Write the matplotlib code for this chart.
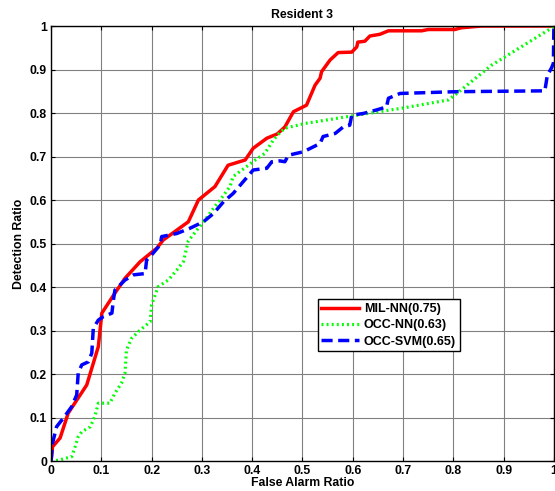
import matplotlib
matplotlib.use("Agg")
import matplotlib.pyplot as plt

plt.rcParams['font.family'] = ['Liberation Sans', 'DejaVu Sans']
plt.rcParams['font.weight'] = 'bold'

# MIL-NN
mil_x = [0, 0.003, 0.018, 0.034, 0.071, 0.094, 0.101, 0.127, 0.147, 0.177, 0.21, 0.223,
         0.273, 0.293, 0.326, 0.352, 0.386, 0.402, 0.429, 0.45, 0.465, 0.482, 0.508, 0.525,
         0.535, 0.538, 0.555, 0.571, 0.598, 0.608, 0.61, 0.624, 0.634, 0.654, 0.671, 0.737,
         0.75, 0.803, 0.816, 0.856, 1.0]
mil_y = [0, 0.033, 0.053, 0.11, 0.175, 0.263, 0.34, 0.386, 0.42, 0.458, 0.489, 0.508,
         0.55, 0.6, 0.631, 0.68, 0.692, 0.719, 0.742, 0.752, 0.768, 0.803, 0.818, 0.864,
         0.88, 0.895, 0.922, 0.939, 0.94, 0.952, 0.963, 0.965, 0.977, 0.981, 0.989, 0.989,
         0.992, 0.992, 0.996, 1.0, 1.0]

# OCC-NN
occnn_x = [0, 0.015, 0.041, 0.048, 0.054, 0.061, 0.078, 0.087, 0.094, 0.117, 0.127, 0.14,
           0.147, 0.15, 0.16, 0.177, 0.197, 0.2, 0.213, 0.233, 0.25, 0.263, 0.273, 0.29,
           0.306, 0.323, 0.336, 0.356, 0.362, 0.389, 0.406, 0.425, 0.442, 0.455, 0.465,
           0.505, 0.591, 0.697, 0.79, 0.807, 0.876, 0.995, 1.0]
occnn_y = [0, 0.002, 0.01, 0.033, 0.056, 0.067, 0.079, 0.102, 0.133, 0.133, 0.156, 0.179,
           0.202, 0.255, 0.282, 0.301, 0.32, 0.359, 0.401, 0.416, 0.439, 0.458, 0.506, 0.531,
           0.554, 0.581, 0.6, 0.631, 0.654, 0.677, 0.692, 0.707, 0.738, 0.755, 0.765,
           0.776, 0.792, 0.811, 0.83, 0.845, 0.91, 0.995, 1.0]

# OCC-SVM
svm_x = [0, 0.003, 0.011, 0.024, 0.041, 0.051, 0.054, 0.061, 0.074, 0.081, 0.084, 0.094,
         0.104, 0.121, 0.124, 0.127, 0.147, 0.164, 0.187, 0.19, 0.2, 0.217, 0.22, 0.25,
         0.276, 0.303, 0.323, 0.343, 0.362, 0.382, 0.402, 0.429, 0.439, 0.455, 0.465,
         0.472, 0.502, 0.535, 0.541, 0.565, 0.581, 0.594, 0.598, 0.621, 0.647, 0.667,
         0.671, 0.694, 0.803, 0.982, 0.987, 0.995, 0.999, 1.0]
svm_y = [0, 0.041, 0.079, 0.098, 0.125, 0.152, 0.202, 0.221, 0.228, 0.248, 0.305, 0.324,
         0.332, 0.34, 0.37, 0.393, 0.416, 0.428, 0.431, 0.462, 0.474, 0.497, 0.516, 0.523,
         0.535, 0.55, 0.569, 0.596, 0.615, 0.642, 0.669, 0.673, 0.688, 0.69, 0.688,
         0.703, 0.711, 0.73, 0.746, 0.753, 0.768, 0.772, 0.795, 0.799, 0.807, 0.814,
         0.834, 0.845, 0.849, 0.851, 0.887, 0.903, 0.914, 1.0]

labels = ['MIL-NN(0.75)', 'OCC-NN(0.63)', 'OCC-SVM(0.65)']
ticks = [0, 0.1, 0.2, 0.3, 0.4, 0.5, 0.6, 0.7, 0.8, 0.9, 1]
tick_labels = ['0', '0.1', '0.2', '0.3', '0.4', '0.5', '0.6', '0.7', '0.8', '0.9', '1']

fig = plt.figure(figsize=(5.55, 4.91), dpi=100)
ax = fig.add_axes([0.092, 0.061, 0.906, 0.886])

ax.plot(mil_x, mil_y, color='#ff0000', lw=2.5, label=labels[0])
ax.plot(occnn_x, occnn_y, color='#00ff00', lw=2.3, linestyle=(0, (0.6, 1.0)), label=labels[1])
ax.plot(svm_x, svm_y, color='#0000ff', lw=2.5, linestyle=(0, (3.2, 1.6)), label=labels[2])

ax.set_xlim(0, 1)
ax.set_ylim(0, 1)
ax.set_xticks(ticks)
ax.set_xticklabels(tick_labels)
ax.set_yticks(ticks)
ax.set_yticklabels(tick_labels)
ax.tick_params(direction='in', top=True, right=True, labelsize=8.8, length=3, pad=3)
ax.grid(True, color='#808080', lw=0.8)
for s in ax.spines.values():
    s.set_linewidth(1.0)

ax.set_title('Resident 3', fontsize=8.8, fontweight='bold', pad=6)
ax.set_xlabel('False Alarm Ratio', fontsize=8.8, fontweight='bold', labelpad=0)
ax.set_ylabel('Detection Ratio', fontsize=8.8, fontweight='bold', labelpad=3)

leg = ax.legend(loc='upper left', bbox_to_anchor=(0.53, 0.372), fontsize=9,
                fancybox=False, framealpha=1, edgecolor='black', handlelength=3.0,
                borderpad=0.3, labelspacing=0.35, handletextpad=0.4, borderaxespad=0)
leg.get_frame().set_linewidth(1.0)

fig.savefig('out.png', dpi=100)
